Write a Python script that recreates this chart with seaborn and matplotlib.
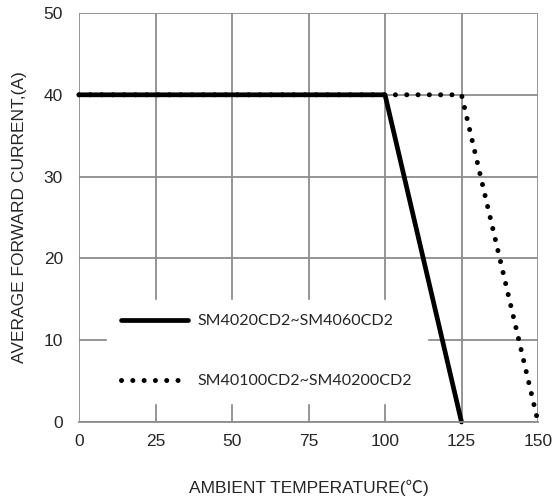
import matplotlib
matplotlib.use("Agg")
import matplotlib.pyplot as plt
import seaborn as sns
import pandas as pd

temp_a = [0, 100, 125]
curr_a = [40, 40, 0]
temp_b = [0, 125, 150]
curr_b = [40, 40, 0]
label_a = "SM4020CD2~SM4060CD2"
label_b = "SM40100CD2~SM40200CD2"
xticks = [0, 25, 50, 75, 100, 125, 150]
yticks = [0, 10, 20, 30, 40, 50]

sns.set_style("white")
plt.rcParams['font.family'] = ['Liberation Sans', 'Noto Sans CJK SC', 'DejaVu Sans']

fig = plt.figure(figsize=(5.53, 5.04), dpi=100)
ax = fig.add_axes([0.1429, 0.1627, 0.830, 0.8115])

df_b = pd.DataFrame({"t": temp_b, "c": curr_b})
df_a = pd.DataFrame({"t": temp_a, "c": curr_a})
sns.lineplot(data=df_b, x="t", y="c", ax=ax, color="black", lw=3.6,
             linestyle=(0, (0.01, 2.25)), dash_capstyle="round", label=label_b)
sns.lineplot(data=df_a, x="t", y="c", ax=ax, color="black", lw=3.4, label=label_a)
for ln in ax.lines:
    ln.set_clip_on(False)

ax.set_xlim(0, 150)
ax.set_ylim(0, 50)
ax.set_xticks(xticks)
ax.set_yticks(yticks)
ax.grid(True, color="#8c8c8c", lw=1.3)
ax.set_axisbelow(True)
for s in ax.spines.values():
    s.set_visible(False)
ax.spines['bottom'].set_visible(True)
ax.spines['bottom'].set_color("#8c8c8c")
ax.spines['bottom'].set_linewidth(1.3)
ax.tick_params(axis='both', which='both', color="#8c8c8c", width=1.3,
               labelsize=12.5, direction='out')
ax.tick_params(axis='x', length=4, pad=5)
ax.tick_params(axis='y', length=6.5, pad=5)
ax.set_xlabel("AMBIENT TEMPERATURE(℃)", fontsize=12.5, labelpad=22)
ax.set_ylabel("AVERAGE FORWARD CURRENT,(A)", fontsize=12.5, labelpad=12)

h, l = ax.get_legend_handles_labels()
leg = ax.legend(h[::-1], l[::-1], loc="lower left", bbox_to_anchor=(0.043, 0.028),
                frameon=True, handlelength=4.2, labelspacing=2.85,
                prop={'family': ['Lato', 'DejaVu Sans'], 'size': 11.5},
                borderpad=0.9, handletextpad=0.6)
leg.get_frame().set_edgecolor("white")
leg.get_frame().set_facecolor("white")
leg.get_frame().set_alpha(1)
leg.get_frame().set_boxstyle("square", pad=0)

fig.savefig("out.png", dpi=100)
